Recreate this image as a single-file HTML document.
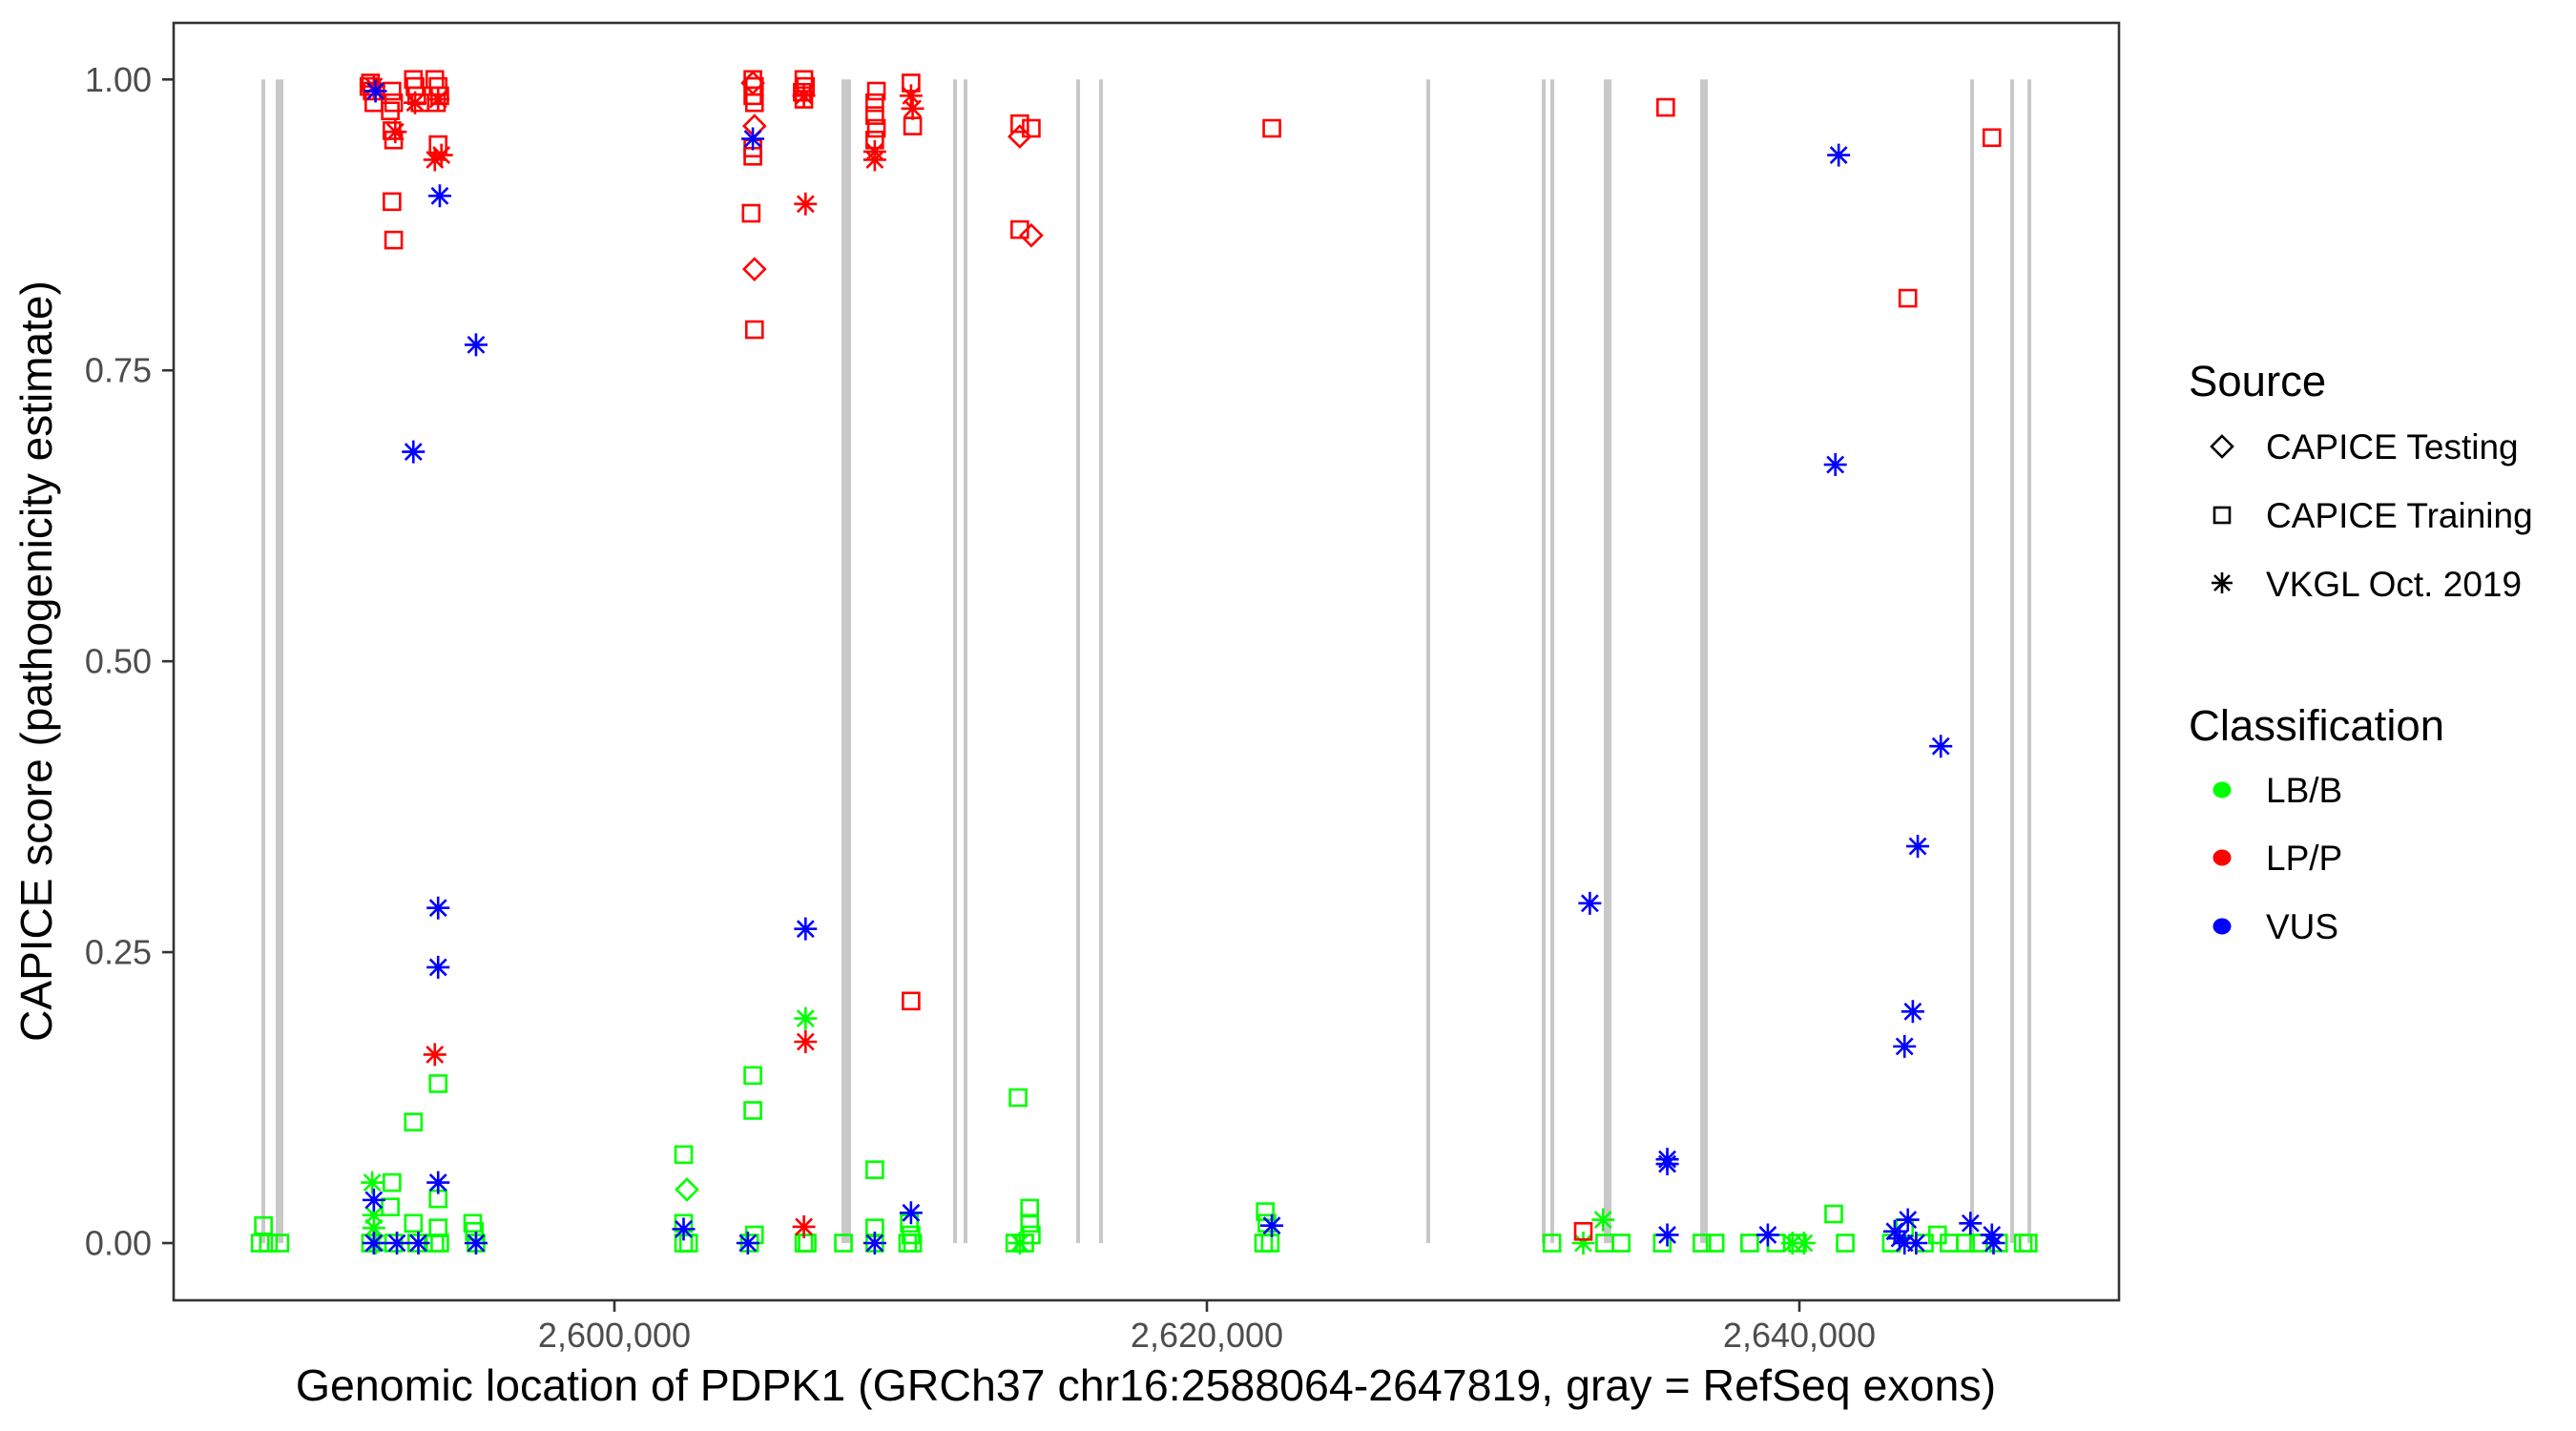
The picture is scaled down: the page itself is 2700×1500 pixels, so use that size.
<!DOCTYPE html>
<html><head><meta charset="utf-8">
<style>
html,body{margin:0;padding:0;background:#fff;}
svg{display:block;font-family:"Liberation Sans",Arial,sans-serif;}
</style></head>
<body>
<svg id="chart" width="2700" height="1500" viewBox="0 0 2700 1500" xmlns="http://www.w3.org/2000/svg">
<rect x="0" y="0" width="2700" height="1500" fill="#fff"/>
<g id="exons"></g>
<g id="points"></g>
<rect x="182" y="24" width="2039" height="1339" fill="none" stroke="#333" stroke-width="2.6"/>
<g id="yaxis"></g>
<g id="xaxis"></g>
<text x="1201" y="1468" font-size="46.5" text-anchor="middle" fill="#000">Genomic location of PDPK1 (GRCh37 chr16:2588064-2647819, gray = RefSeq exons)</text>
<text transform="translate(54,693) rotate(-90)" font-size="46" text-anchor="middle" fill="#000">CAPICE score (pathogenicity estimate)</text>
<g id="legend">
  <text x="2294" y="415" font-size="45.5" fill="#000">Source</text>
  <g>
    <path d="M2329,457 L2340,468 L2329,479 L2318,468 Z" fill="none" stroke="#000" stroke-width="2.6"/>
    <text x="2375" y="481" font-size="37" fill="#000">CAPICE Testing</text>
  </g>
  <g>
    <rect x="2321" y="532" width="16" height="16" fill="none" stroke="#000" stroke-width="2.6"/>
    <text x="2375" y="553" font-size="37" fill="#000">CAPICE Training</text>
  </g>
  <g>
    <path d="M2329,600 V622 M2318,611 H2340 M2321,603 L2337,619 M2337,603 L2321,619" stroke="#000" stroke-width="2.6"/>
    <text x="2375" y="625" font-size="37" fill="#000">VKGL Oct. 2019</text>
  </g>
  <text x="2294" y="776" font-size="45.5" fill="#000">Classification</text>
  <g>
    <ellipse cx="2329" cy="828" rx="9.5" ry="8.5" fill="#00FF00"/>
    <text x="2375" y="841" font-size="37" fill="#000">LB/B</text>
  </g>
  <g>
    <ellipse cx="2329" cy="899" rx="9.5" ry="8.5" fill="#FF0000"/>
    <text x="2375" y="912" font-size="37" fill="#000">LP/P</text>
  </g>
  <g>
    <ellipse cx="2329" cy="971" rx="9.5" ry="8.5" fill="#0000FF"/>
    <text x="2375" y="984" font-size="37" fill="#000">VUS</text>
  </g>
</g>
</svg>
<script>
const exonStart = [2588084,2588567,2607665,2611434,2611788,2615588,2616361,2627408,2631305,2631595,2633398,2636650,2645765,2647118,2647698];
const exonEnd   = [2588213,2588825,2607987,2611563,2611917,2615717,2616490,2627537,2631434,2631724,2633656,2636908,2645894,2647247,2647827];
const xTicks = [2600000,2620000,2640000];
const xTickLabels = ["2,600,000","2,620,000","2,640,000"];
const yTicks = [0,0.25,0.5,0.75,1];
const yTickLabels = ["0.00","0.25","0.50","0.75","1.00"];
const positions = [
2588153,2588042,2588320,2588709,
2591768,2591824,2591879,2591713,2592491,2592547,2592436,2593214,2593270,2593326,2593437,2593937,2594049,2594104,2593993,
2591879,2592603,2593270,2594049,2594160,2593937,2592491,2592547,2592491,2592547,2594049,2593937,
2591935,2594104,2595328,2593214,2594049,2594049,2594049,2591879,2592658,2593381,2591879,
2591824,2591879,2591879,2591935,2592491,2592436,2593214,2594049,2594049,2593214,2594049,2593326,2593937,2595217,2595272,2595328,2595328,2595328,2591768,2592547,2594104,
2602336,2602336,2602336,2602503,2602447,2602336,
2604672,2604728,2604672,2604728,2604672,2604728,2604672,2604672,2604672,2604616,2604728,2604728,2604672,2604672,2604728,2604561,2604505,
2606396,2606452,2606341,2606396,2606396,2606452,2606452,2606396,2606452,2606452,2606396,2606508,2607731,
2608844,2608788,2608788,2608844,2608788,2608788,2608788,2608788,2608788,2608788,2608788,
2610012,2610067,2610012,2610012,2610067,2610012,2609956,2610012,2609900,2610067,
2613683,2614072,2613683,2613683,2614072,2613627,2614016,2614016,2614072,2613516,2613849,2613683,
2622192,2621970,2622026,2621914,2622137,2622192,
2632927,2631648,2633428,2633984,2632705,2633372,2632705,
2635486,2635541,2635541,2635541,2635374,2636709,2637154,2638322,2639212,2639935,2638934,2640158,2639768,2641159,2641548,2641326,2641214,
2643662,2644774,2643995,2643829,2643550,2643662,2643217,2643550,2643940,2643384,2643106,2643550,2644218,2644663,2645052,2645608,2646053,2646721,2647555,2647723,2645775,2646554,2646498,2646498
];
const scores = [
0.015,0,0,0,
0.997,0.99,0.98,0.994,0.99,0.98,0.973,1.0,0.994,0.986,0.98,1.0,0.994,0.986,0.98,
0.994,0.955,0.98,0.983,0.935,0.931,0.956,0.948,0.895,0.862,0.944,0.162,
0.99,0.90,0.772,0.68,0.288,0.237,0.052,0.037,0,0,0,
0.052,0.024,0.013,0,0.052,0.031,0.104,0.137,0.038,0.017,0.013,0,0,0.017,0.010,0,0,0,0,0,0,
0.076,0.017,0,0,0.046,0.012,
1.0,0.994,0.986,0.98,0.997,0.96,0.949,0.941,0.934,0.885,0.785,0.837,0.144,0.114,0.007,0,0,
1.0,0.994,0.989,0.983,0.986,0.893,0.173,0.014,0.27,0.193,0,0,0,
0.99,0.98,0.969,0.958,0.948,0.938,0.931,0.063,0.013,0,0,
0.997,0.96,0.208,0.986,0.975,0.026,0.017,0.007,0,0,
0.962,0.958,0.871,0.951,0.866,0.125,0.03,0.017,0.007,0,0,0,
0.958,0.027,0.017,0,0,0.015,
0.292,0,0,0,0.01,0.02,0,
0.976,0.072,0.068,0.007,0,0,0,0,0,0,0.007,0,0,0.025,0,0.935,0.669,
0.812,0.427,0.341,0.199,0.169,0.02,0.01,0,0,0.004,0,0.013,0,0.007,0,0,0,0,0,0,0.017,0,0.007,0.95
];
const sources = [
"S","S","S","S",
"S","S","S","S","S","S","S","S","S","S","S","S","S","S","S",
"A","A","A","A","A","A","S","S","S","S","S","A",
"A","A","A","A","A","A","A","A","A","A","A",
"A","A","A","A","S","S","S","S","S","S","S","S","S","S","S","S","A","A","S","S","S",
"S","S","S","S","D","A",
"S","S","S","S","D","D","A","S","S","S","S","D","S","S","S","S","A",
"S","S","S","S","A","A","A","A","A","A","S","S","S",
"S","S","S","S","S","A","A","S","S","S","A",
"S","S","S","A","A","A","S","S","S","S",
"S","S","S","D","D","S","S","S","S","S","S","A",
"S","S","S","S","S","A",
"A","S","S","S","S","A","A",
"S","A","A","A","S","S","S","S","S","S","A","A","A","S","S","A","A",
"S","A","A","A","A","A","A","A","A","A","S","S","S","S","S","S","S","S","S","S","A","A","A","S"
];
const classes = [
"B","B","B","B",
"P","P","P","P","P","P","P","P","P","P","P","P","P","P","P",
"P","P","P","P","P","P","P","P","P","P","P","P",
"V","V","V","V","V","V","V","V","V","V","V",
"B","B","B","B","B","B","B","B","B","B","B","B","B","B","B","B","B","V","B","B","B",
"B","B","B","B","B","V",
"P","P","P","P","P","P","V","P","P","P","P","P","B","B","B","B","V",
"P","P","P","P","P","P","P","P","V","B","B","B","B",
"P","P","P","P","P","P","P","B","B","B","V",
"P","P","P","P","P","V","B","B","B","B",
"P","P","P","P","P","B","B","B","B","B","B","B",
"P","B","B","B","B","V",
"V","B","B","B","P","B","B",
"P","V","V","V","B","B","B","B","B","B","V","B","B","B","B","V","V",
"P","V","V","V","V","V","V","V","V","V","B","B","B","B","B","B","B","B","B","B","V","V","V","P"
];

const NS = "http://www.w3.org/2000/svg";
const X = v => 644 + (v - 2600000) * 0.03105;
const Y = s => 1303 - s * 1219.7;
const colorOf = {B:"#00FF00", P:"#FF0000", V:"#0000FF"};

const exG = document.getElementById("exons");
for (let i = 0; i < exonStart.length; i++) {
  const r = document.createElementNS(NS, "rect");
  const x0 = X(exonStart[i]), x1 = X(exonEnd[i]);
  r.setAttribute("x", x0); r.setAttribute("width", Math.max(3, x1 - x0));
  r.setAttribute("y", Y(1)); r.setAttribute("height", Y(0) - Y(1));
  r.setAttribute("fill", "#C8C8C8");
  
  
  exG.appendChild(r);
}

const ptG = document.getElementById("points");
["B","P","V"].forEach(c => {
  for (let i = 0; i < positions.length; i++) {
    if (classes[i] !== c) continue;
    const cx = X(positions[i]), cy = Y(scores[i]);
    const col = colorOf[c];
    let el;
    if (sources[i] === "S") {
      el = document.createElementNS(NS, "rect");
      el.setAttribute("x", cx - 8.5); el.setAttribute("y", cy - 8.5);
      el.setAttribute("width", 17); el.setAttribute("height", 17);
      el.setAttribute("fill", "none");
    } else if (sources[i] === "D") {
      el = document.createElementNS(NS, "path");
      el.setAttribute("d", `M${cx},${cy-11} L${cx+11},${cy} L${cx},${cy+11} L${cx-11},${cy} Z`);
      el.setAttribute("fill", "none");
    } else {
      el = document.createElementNS(NS, "path");
      el.setAttribute("d", `M${cx},${cy-12} V${cy+12} M${cx-12},${cy} H${cx+12} M${cx-8.5},${cy-8.5} L${cx+8.5},${cy+8.5} M${cx+8.5},${cy-8.5} L${cx-8.5},${cy+8.5}`);
    }
    el.setAttribute("stroke", col);
    el.setAttribute("stroke-width", "2.6");
    
    
    ptG.appendChild(el);
  }
});

const yG = document.getElementById("yaxis");
yTicks.forEach((t, i) => {
  const y = Y(t);
  const ln = document.createElementNS(NS, "line");
  ln.setAttribute("x1", 170); ln.setAttribute("x2", 182);
  ln.setAttribute("y1", y); ln.setAttribute("y2", y);
  ln.setAttribute("stroke", "#333"); ln.setAttribute("stroke-width", "2.6");
  
  
  yG.appendChild(ln);
  const tx = document.createElementNS(NS, "text");
  tx.setAttribute("x", 159); tx.setAttribute("y", y + 12.5);
  tx.setAttribute("text-anchor", "end"); tx.setAttribute("font-size", "36");
  tx.setAttribute("fill", "#4D4D4D");
  tx.textContent = yTickLabels[i];
  
  
  yG.appendChild(tx);
});

const xG = document.getElementById("xaxis");
xTicks.forEach((t, i) => {
  const x = X(t);
  const ln = document.createElementNS(NS, "line");
  ln.setAttribute("x1", x); ln.setAttribute("x2", x);
  ln.setAttribute("y1", 1363); ln.setAttribute("y2", 1375);
  ln.setAttribute("stroke", "#333"); ln.setAttribute("stroke-width", "2.6");
  
  
  xG.appendChild(ln);
  const tx = document.createElementNS(NS, "text");
  tx.setAttribute("x", x); tx.setAttribute("y", 1412);
  tx.setAttribute("text-anchor", "middle"); tx.setAttribute("font-size", "36");
  tx.setAttribute("fill", "#4D4D4D");
  tx.textContent = xTickLabels[i];
  
  
  xG.appendChild(tx);
});
</script>
</body></html>
